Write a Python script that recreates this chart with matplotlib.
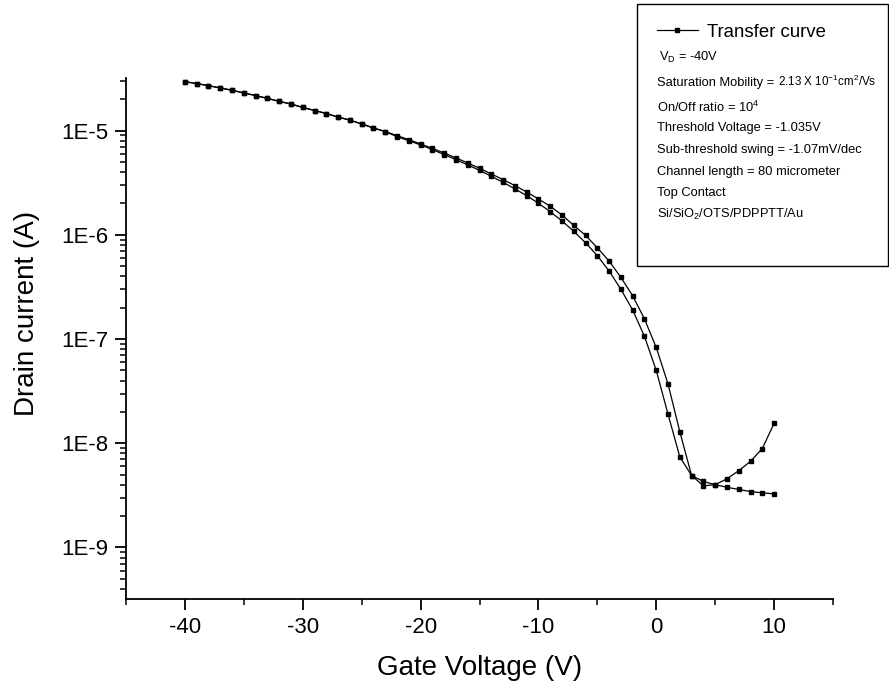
import numpy as np
import matplotlib
matplotlib.use('Agg')
import matplotlib.pyplot as plt
from matplotlib.patches import Rectangle
from matplotlib.ticker import LogLocator, MultipleLocator, FuncFormatter, NullFormatter

matplotlib.rcParams['font.family'] = ['Liberation Sans', 'DejaVu Sans']
matplotlib.rcParams['mathtext.fontset'] = 'custom'
matplotlib.rcParams['mathtext.rm'] = 'Liberation Sans'
matplotlib.rcParams['mathtext.it'] = 'Liberation Sans:italic'
matplotlib.rcParams['mathtext.bf'] = 'Liberation Sans:bold'
matplotlib.rcParams['axes.unicode_minus'] = False

# gate voltage sweep (V)
vg = np.arange(-40, 11, 1)

# drain current (A), two sweeps
id_sweep1 = [
    2.95e-5, 2.83e-5, 2.70e-5, 2.57e-5, 2.44e-5, 2.30e-5, 2.17e-5, 2.04e-5,
    1.91e-5, 1.80e-5, 1.67e-5, 1.56e-5, 1.46e-5, 1.35e-5, 1.26e-5, 1.16e-5,
    1.06e-5, 9.8e-6, 8.95e-6, 8.2e-6, 7.45e-6, 6.76e-6, 6.1e-6, 5.47e-6,
    4.9e-6, 4.35e-6, 3.84e-6, 3.39e-6, 2.97e-6, 2.58e-6, 2.21e-6, 1.88e-6,
    1.55e-6, 1.23e-6, 9.9e-7, 7.5e-7, 5.6e-7, 3.9e-7, 2.6e-7, 1.56e-7,
    8.3e-8, 3.7e-8, 1.29e-8, 4.9e-9, 4.3e-9, 4.0e-9, 4.56e-9, 5.45e-9,
    6.7e-9, 8.9e-9, 1.55e-8]
id_sweep2 = [
    2.95e-5, 2.83e-5, 2.70e-5, 2.57e-5, 2.44e-5, 2.30e-5, 2.17e-5, 2.04e-5,
    1.91e-5, 1.80e-5, 1.67e-5, 1.56e-5, 1.46e-5, 1.35e-5, 1.26e-5, 1.16e-5,
    1.06e-5, 9.8e-6, 8.75e-6, 8.0e-6, 7.3e-6, 6.58e-6, 5.89e-6, 5.27e-6,
    4.69e-6, 4.16e-6, 3.65e-6, 3.19e-6, 2.76e-6, 2.38e-6, 2.01e-6, 1.67e-6,
    1.36e-6, 1.08e-6, 8.4e-7, 6.3e-7, 4.5e-7, 3.0e-7, 1.9e-7, 1.06e-7,
    5.0e-8, 1.9e-8, 7.4e-9, 4.9e-9, 3.9e-9, 4.0e-9, 3.78e-9, 3.6e-9,
    3.44e-9, 3.34e-9, 3.27e-9]

info_lines = [
    'On/Off ratio = $\\mathregular{10^4}$',
    'Threshold Voltage = -1.035V',
    'Sub-threshold swing = -1.07mV/dec',
    'Channel length = 80 micrometer',
    'Top Contact',
    'Si/SiO$\\mathregular{_2}$/OTS/PDPPTT/Au',
]

W, H = 889, 688
fig = plt.figure(figsize=(W / 100, H / 100), dpi=100)
ax = fig.add_axes([126 / W, 1 - 599 / H, (833 - 126) / W, (599 - 78) / H])

style = dict(color='black', lw=0.9, marker='s', ms=3.0, mfc='black', mec='black')
line1, = ax.plot(vg, id_sweep1, **style)
ax.plot(vg, id_sweep2, **style)

ax.set_yscale('log')
ax.set_xlim(-45, 15)
ax.set_ylim(3.2e-10, 3.2e-5)
ax.spines['top'].set_visible(False)
ax.spines['right'].set_visible(False)
for s in ('left', 'bottom'):
    ax.spines[s].set_linewidth(1.3)

ax.xaxis.set_major_locator(MultipleLocator(10))
ax.xaxis.set_minor_locator(MultipleLocator(5))
ax.yaxis.set_major_locator(LogLocator(base=10, numticks=20))
ax.yaxis.set_minor_locator(LogLocator(base=10, subs=np.arange(2, 10), numticks=20))
ax.yaxis.set_major_formatter(FuncFormatter(lambda v, p: '1E%d' % round(np.log10(v))))
ax.yaxis.set_minor_formatter(NullFormatter())
ax.tick_params(which='major', direction='out', length=8, width=1.3, labelsize=16, pad=5)
ax.tick_params(which='minor', direction='out', length=4, width=1.1)

ax.set_xlabel('Gate Voltage (V)', fontsize=20)
ax.set_ylabel('Drain current (A)', fontsize=20)
ax.xaxis.set_label_coords(0.5, -0.107)
ax.yaxis.set_label_coords(-0.122, 0.549)

# legend box
fig.add_artist(Rectangle((637 / W, 1 - 266 / H), (888 - 637) / W, 262 / H,
                         transform=fig.transFigure, fill=False, lw=1.0,
                         edgecolor='black'))
fig.legend([line1], ['Transfer curve'], loc='center left',
           bbox_to_anchor=(657 / W, 1 - 32 / H), frameon=False,
           fontsize=13.4, borderpad=0, borderaxespad=0, handlelength=2.2,
           handletextpad=0.5, numpoints=1)

fs = 9.3
fig.text(659 / W, 1 - 57 / H, '$\\mathregular{V_D}$ = -40V', fontsize=fs, va='center')
t_sat = fig.text(657 / W, 1 - 86 / H, 'Saturation Mobility = ', fontsize=fs,
                 va='baseline')
fig.add_artist(matplotlib.text.Annotation(
    '$\\mathregular{2.13\\ X\\ 10^{-1}cm^{2}/Vs}$', xy=(1, 0),
    xycoords=t_sat, fontsize=8.4, va='bottom', ha='left'))
for i, s in enumerate(info_lines):
    fig.text(657 / W, 1 - (107 + 21.5 * i) / H, s, fontsize=fs, va='center')

fig.savefig('out.png', dpi=100)
